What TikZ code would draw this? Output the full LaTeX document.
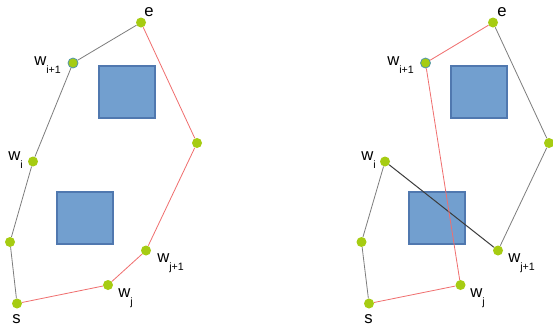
\documentclass[tikz,border=0pt]{standalone}
\usepackage{fontspec}
\setmainfont{Liberation Sans}
\definecolor{dotc}{RGB}{166,204,18}
\definecolor{dotrim}{RGB}{80,150,170}
\definecolor{boxfill}{RGB}{114,159,207}
\definecolor{boxline}{RGB}{80,120,175}
\definecolor{redl}{RGB}{240,110,110}
\definecolor{grayl}{RGB}{125,125,125}
\definecolor{darkl}{RGB}{60,60,60}
\newcommand{\wl}[1]{w\raisebox{-6pt}{\fontsize{8}{9}\selectfont #1}}
\begin{document}
\begin{tikzpicture}[x=0.75pt,y=-0.75pt,
  pt/.style={circle,fill=dotc,inner sep=0pt,minimum size=7.5pt},
  ptrim/.style={pt,draw=dotrim,line width=0.6pt},
  obst/.style={fill=boxfill,draw=boxline,line width=0.8pt},
  redpath/.style={draw=redl,line width=0.6pt},
  graypath/.style={draw=grayl,line width=0.6pt},
  darkpath/.style={draw=darkl,line width=0.75pt},
  lbl/.style={anchor=base west,inner sep=0pt,font=\fontsize{12.5}{14}\selectfont}]
\useasboundingbox[fill=white] (0,0) rectangle (553,329);
% ---------- left diagram ----------
\draw[obst] (99,66) rectangle (155,118);
\draw[obst] (57,192) rectangle (113,244);
\node[pt] (Le) at (141,22.5) {};
\node[ptrim] (Lwi1) at (73,63) {};
\node[pt] (Lr) at (197,143) {};
\node[pt] (Lwi) at (33,161.5) {};
\node[pt] (Ll) at (10,242) {};
\node[pt] (Ls) at (17,303.5) {};
\node[pt] (Lwj) at (108,285) {};
\node[pt] (Lwj1) at (146,250.5) {};
\draw[graypath] (Ls) -- (Ll) -- (Lwi) -- (Lwi1) -- (Le);
\draw[redpath] (Le) -- (Lr) -- (Lwj1) -- (Lwj) -- (Ls);
\node[lbl] (LTe) at (144,16) {e};
\node[lbl] (LTwi1) at (34,65) {\wl{i+1}};
\node[lbl] (LTwi) at (8,160) {\wl{i}};
\node[lbl] (LTs) at (12,323) {s};
\node[lbl] (LTwj) at (118,297) {\wl{j}};
\node[lbl] (LTwj1) at (157,262) {\wl{j+1}};
% ---------- right diagram ----------
\draw[obst] (451,66) rectangle (507,118);
\draw[obst] (409,192) rectangle (465,244);
\node[pt] (Re) at (493,22.5) {};
\node[ptrim] (Rwi1) at (425.5,63) {};
\node[pt] (Rr) at (549,143) {};
\node[pt] (Rwi) at (385,161.5) {};
\node[pt] (Rl) at (361.5,242) {};
\node[pt] (Rs) at (369,303.5) {};
\node[pt] (Rwj) at (460.5,285) {};
\node[pt] (Rwj1) at (498,250.5) {};
\draw[graypath] (Rs) -- (Rl) -- (Rwi);
\draw[darkpath] (Rwi) -- (Rwj1);
\draw[graypath] (Rwj1) -- (Rr) -- (Re);
\draw[redpath] (Re) -- (Rwi1) -- (Rwj) -- (Rs);
\node[lbl] (RTe) at (497,16) {e};
\node[lbl] (RTwi1) at (387,65) {\wl{i+1}};
\node[lbl] (RTwi) at (361,160) {\wl{i}};
\node[lbl] (RTs) at (364,323) {s};
\node[lbl] (RTwj) at (470,297) {\wl{j}};
\node[lbl] (RTwj1) at (508,262) {\wl{j+1}};
\end{tikzpicture}
\end{document}
